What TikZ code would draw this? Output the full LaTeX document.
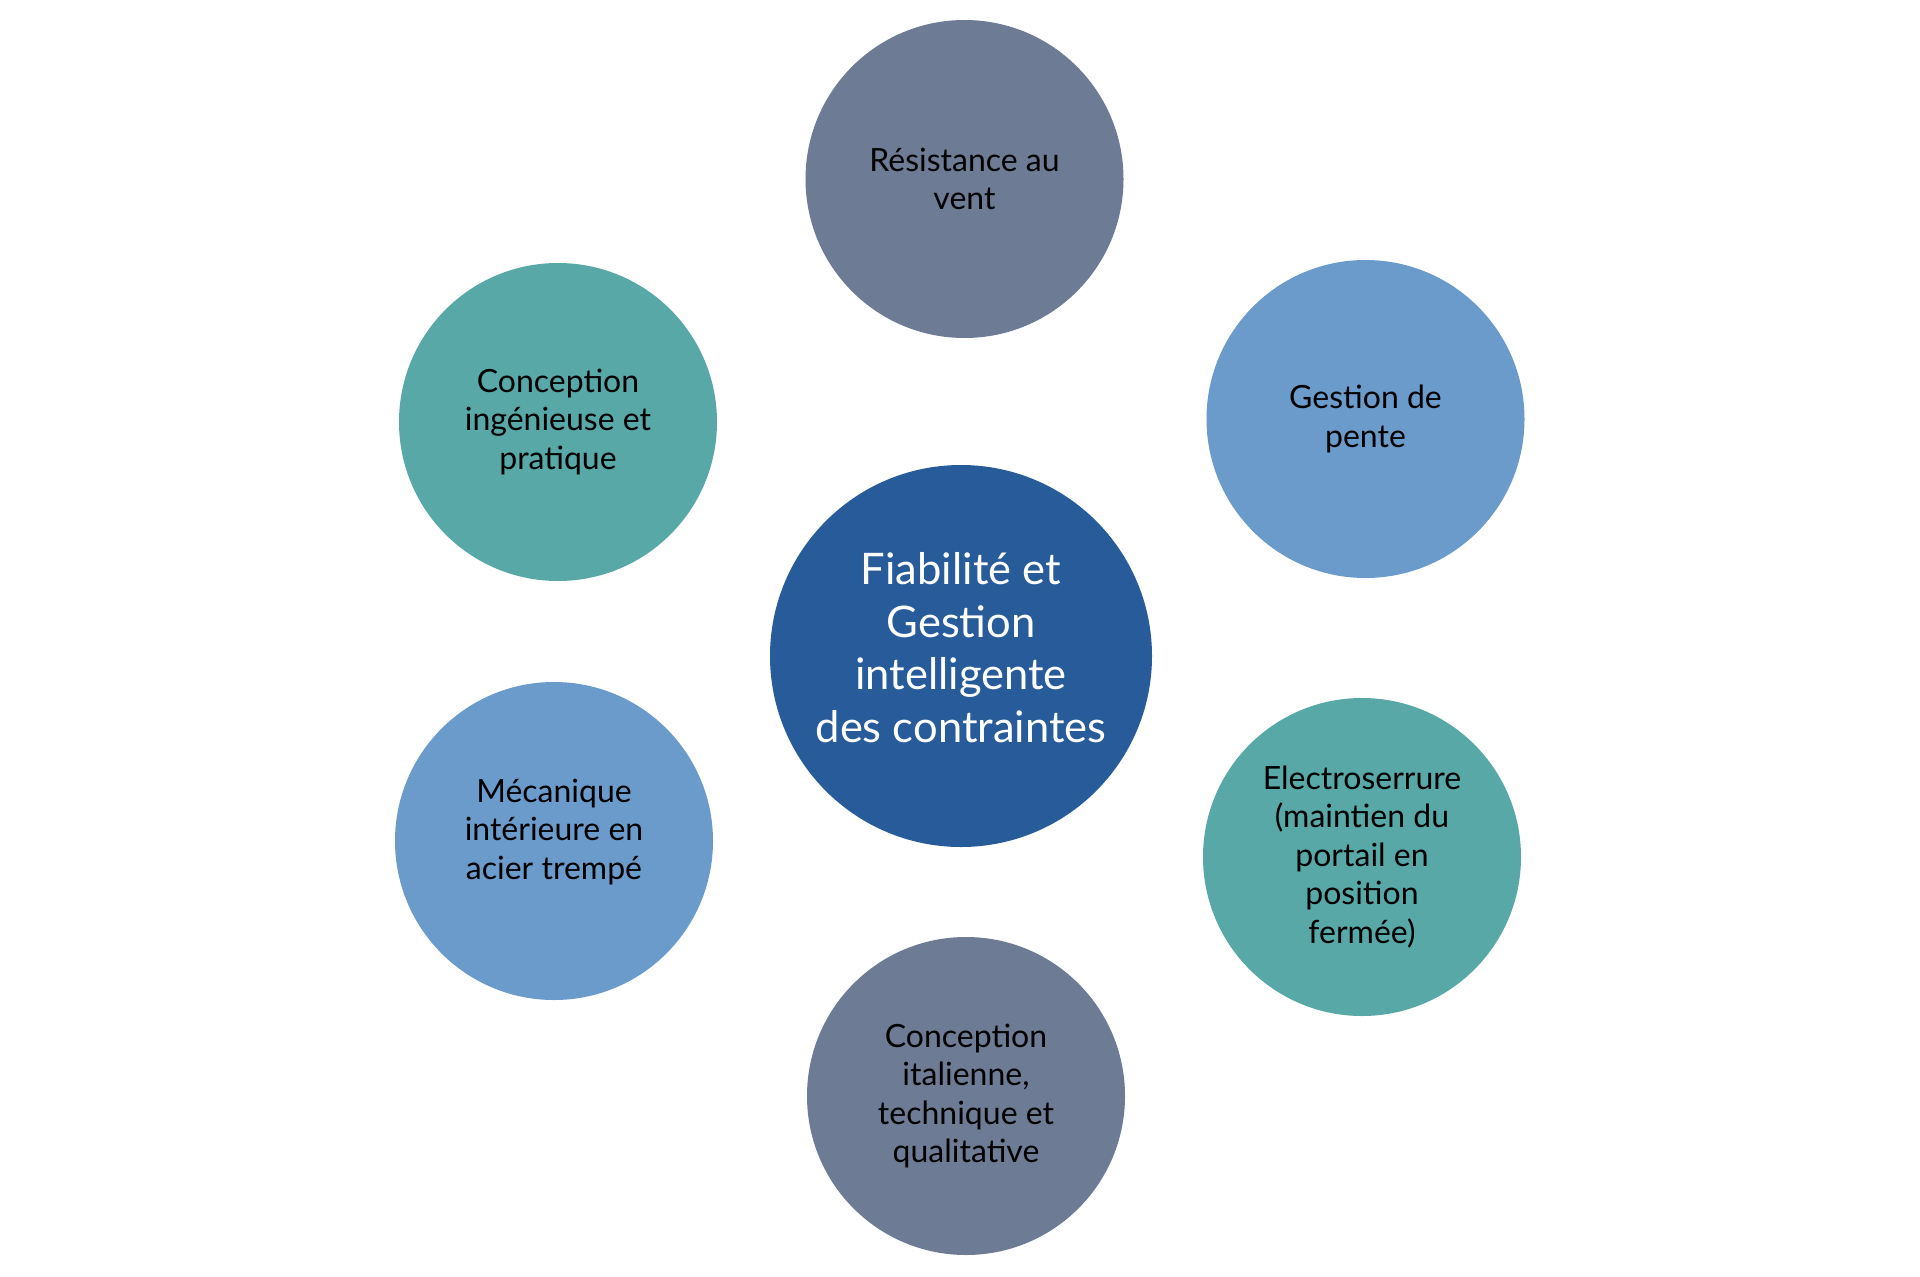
\documentclass[tikz,border=0pt]{standalone}
\usepackage{fontspec}
\setmainfont{Lato}
\definecolor{slate}{HTML}{6E7B95}
\definecolor{teal}{HTML}{57A8A6}
\definecolor{lblue}{HTML}{6B9BCB}
\definecolor{dblue}{HTML}{285B99}
\begin{document}
\begin{tikzpicture}[x=1pt,y=-1pt,
  bub/.style={circle,minimum size=318pt,inner sep=0pt,align=center,text=black,
    font=\fontsize{32}{38.5}\selectfont},
  hub/.style={circle,minimum size=382pt,inner sep=0pt,align=center,text=white,
    font=\fontsize{43.5}{52.5}\selectfont},
  txt/.style={inner sep=0pt,align=center}]
\useasboundingbox (0,0) rectangle (1920,1277);
\fill[white] (0,0) rectangle (1920,1277);
\node[hub,fill=dblue] (c) at (961,656) {};
\node[txt,text=white,font=\fontsize{43.5}{52.5}\selectfont] (ct) at (961,647.5) {Fiabilité et\\Gestion\\intelligente\\des contraintes};
\node[bub,fill=slate] (t) at (964.5,179) {Résistance au\\vent};
\node[bub,fill=lblue] (ur) at (1365.5,419) {Gestion de\\pente};
\node[bub,fill=teal] (lr) at (1362,857) {Electroserrure\\(maintien du\\portail en\\position\\fermée)};
\node[bub,fill=slate] (b) at (966,1096) {Conception\\italienne,\\technique et\\qualitative};
\node[bub,fill=lblue] (ll) at (554,841) {};
\node[txt,font=\fontsize{32}{38.5}\selectfont] (llt) at (554,832) {Mécanique\\intérieure en\\acier trempé};
\node[bub,fill=teal] (ul) at (558,422) {Conception\\ingénieuse et\\pratique};
\end{tikzpicture}
\end{document}
